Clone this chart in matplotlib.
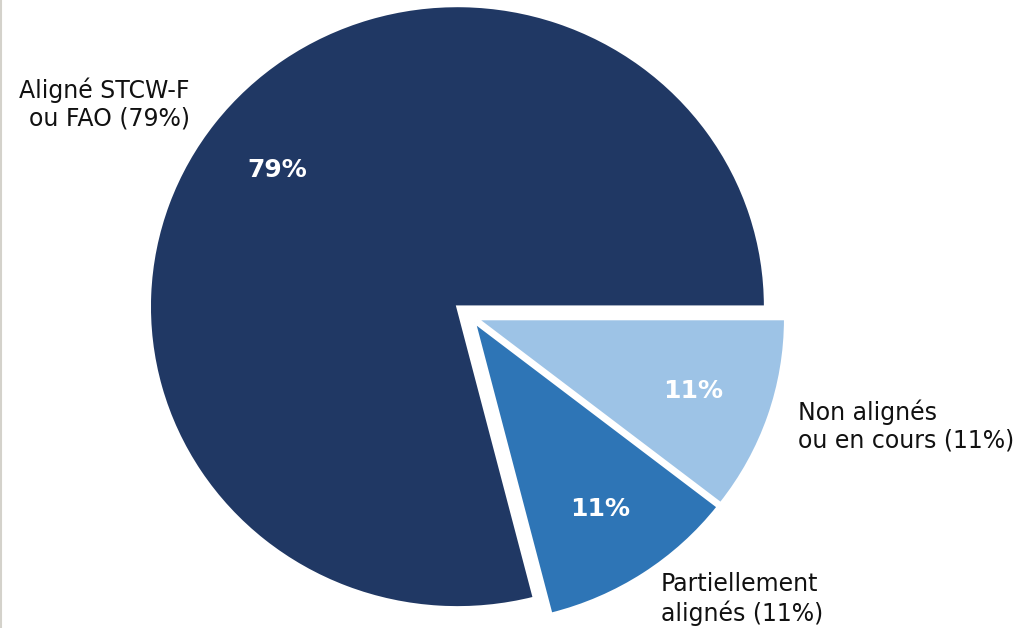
import matplotlib.pyplot as plt
from matplotlib.lines import Line2D

plt.rcParams['font.family'] = ['DejaVu Sans']

# Data
labels = ["Aligné STCW-F\nou FAO (79%)", "Partiellement\nalignés (11%)", "Non alignés\nou en cours (11%)"]
shares = [79, 10.5, 10.5]
pct_labels = ["79%", "11%", "11%"]
colors = ["#203864", "#2e75b6", "#9dc3e6"]
explode = [0.055, 0.023, 0.023]

fig = plt.figure(figsize=(10.23, 6.28), dpi=100)
ax = fig.add_axes([0, 0, 1, 1])

wedges, texts, autotexts = ax.pie(
    shares, labels=labels, colors=colors, explode=explode,
    startangle=0, counterclock=True, autopct=lambda p: "", pctdistance=0.74,
    labeldistance=1.1,
    wedgeprops=dict(edgecolor="white", linewidth=1.8),
    textprops=dict(fontsize=17, color="#111111"),
)
for t, s in zip(autotexts, pct_labels):
    t.set_text(s)
    t.set_color("white")
    t.set_fontweight("bold")
    t.set_fontsize(18)

# place the pie (reference is slightly squashed vertically)
rx, ry = 307.7, 300.7
cx, cy = 470.8, 628 - 316.8
ax.set_aspect("auto")
ax.set_xlim(-cx / rx, (1023 - cx) / rx)
ax.set_ylim(-cy / ry, (628 - cy) / ry)
ax.axis("off")

# thin grey border at left edge
fig.add_artist(Line2D([0.001, 0.001], [0, 1], transform=fig.transFigure, color="#d4d2cb", linewidth=1.5))

fig.savefig("out.png", dpi=100)
